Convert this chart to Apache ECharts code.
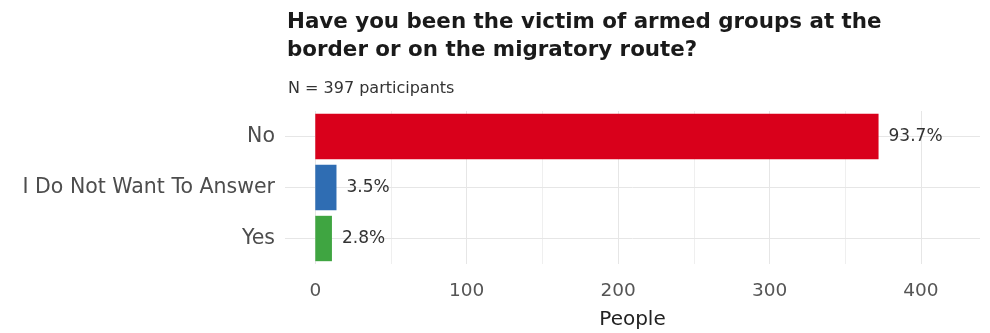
<!DOCTYPE html>
<html>
<head>
<meta charset="utf-8">
<script src="https://cdn.jsdelivr.net/npm/echarts@6/dist/echarts.min.js"></script>
<style>
  html, body { margin: 0; padding: 0; background: #fff; }
  #main { width: 990px; height: 333px; }
</style>
</head>
<body>
<div id="main"></div>
<script>
const categories = ['No', 'I Do Not Want To Answer', 'Yes'];
const people = [372, 14, 11];
const barColors = ['#d9001b', '#2f6db3', '#3fa541'];
const total = 397;
const majorTicks = [0, 100, 200, 300, 400];
const minorTicks = [50, 150, 250, 350];

const chartDom = document.getElementById('main');
const myChart = echarts.init(chartDom, null, { renderer: 'canvas' });

const font = 'DejaVu Sans, sans-serif';

let option = {
    animation: false,
    title: [
        {
            text: 'Have you been the victim of armed groups at the\nborder or on the migratory route?',
            left: 282,
            top: 3,
            textStyle: {
                fontFamily: font,
                fontWeight: 'bold',
                fontSize: 21.4,
                lineHeight: 28,
                color: '#1a1a1a'
            }
        },
        {
            text: 'N = ' + total + ' participants',
            left: 283,
            top: 76,
            textStyle: {
                fontFamily: font,
                fontWeight: 'normal',
                fontSize: 16,
                color: '#333'
            }
        }
    ],
    grid: {
        left: 285,
        right: 10,
        top: 111,
        height: 153
    },
    xAxis: {
        type: 'value',
        min: -20,
        max: 439,
        name: 'People',
        nameLocation: 'center',
        nameGap: 46,
        nameTextStyle: { fontFamily: font, fontSize: 20, color: '#222' },
        axisLine: { show: false },
        axisTick: { show: false, customValues: majorTicks },
        axisLabel: {
            customValues: majorTicks,
            fontFamily: font,
            fontSize: 18.5,
            color: '#555',
            margin: 18
        },
        splitLine: { show: true, lineStyle: { color: '#e6e6e6', width: 1 } }
    },
    yAxis: {
        type: 'category',
        inverse: true,
        data: categories,
        axisLine: { show: false, onZero: false },
        axisTick: {
            show: true,
            alignWithLabel: true,
            inside: true,
            length: 695,
            lineStyle: { color: '#e6e6e6', width: 1 }
        },
        axisLabel: { fontFamily: font, fontSize: 20.5, color: '#4d4d4d', margin: 10 },
        splitLine: { show: false }
    },
    series: [
        {
            // minor vertical gridlines, kept under the bars
            type: 'line',
            data: [],
            z: 0,
            markLine: {
                silent: true,
                z: 0,
                symbol: 'none',
                label: { show: false },
                lineStyle: { color: '#efefef', width: 1, type: 'solid' },
                data: minorTicks.map(v => ({ xAxis: v }))
            }
        },
        {
            type: 'bar',
            barWidth: '89%',
            data: people.map((v, i) => ({ value: v, itemStyle: { color: barColors[i] } })),
            label: {
                show: true,
                position: 'right',
                distance: 10,
                fontFamily: font,
                fontSize: 17,
                color: '#333',
                formatter: p => (p.value / total * 100).toFixed(1) + '%'
            },
            z: 3
        }
    ]
};

option && myChart.setOption(option);
</script>
</body>
</html>
